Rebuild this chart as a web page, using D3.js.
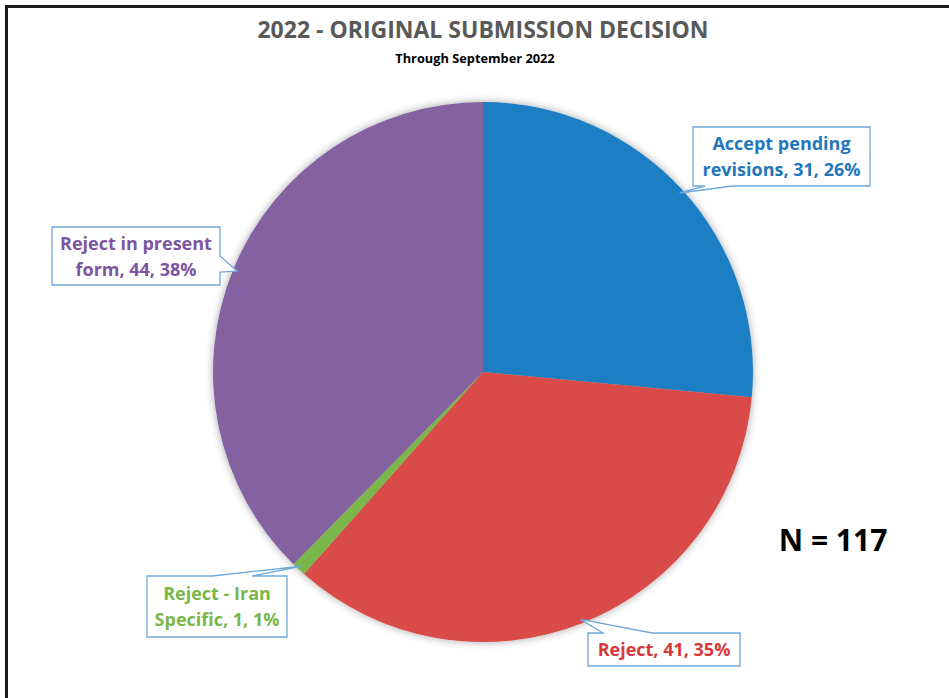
<!DOCTYPE html>
<html><head><meta charset="utf-8">
<script src="https://cdn.jsdelivr.net/npm/d3@7/dist/d3.min.js"></script>
<style>body{margin:0;background:#fff;} svg{display:block;}</style>
</head><body>
<svg id="c" width="949" height="698"></svg>
<script>
const categories = ["Accept pending revisions", "Reject", "Reject - Iran Specific", "Reject in present form"];
const values = [31, 41, 1, 44];
const percents = ["26%", "35%", "1%", "38%"];
const labelLines = [["Accept pending", "revisions, 31, 26%"], ["Reject, 41, 35%"], ["Reject - Iran", "Specific, 1, 1%"], ["Reject in present", "form, 44, 38%"]];
const colors = ["#1F7FC3", "#D94B48", "#7AB648", "#8462A2"];
const textColors = ["#1F77BE", "#D9383A", "#7AB648", "#7D55A0"];
const title = "2022 - ORIGINAL SUBMISSION DECISION";
const subtitle = "Through September 2022";
const nLabel = "N = 117";

const svg = d3.select("#c");
const font = "'Open Sans', 'Noto Sans', sans-serif";

// frame
svg.append("path").attr("d", "M6.5,698 L6.5,6.5 L949,6.5").attr("fill", "none").attr("stroke", "#1a1a1a").attr("stroke-width", 3);

svg.append("text").attr("x", 483).attr("y", 38).attr("text-anchor", "middle")
  .attr("font-family", font).attr("font-weight", 700).attr("font-size", 23).attr("fill", "#595959").text(title);
svg.append("text").attr("x", 475).attr("y", 63).attr("text-anchor", "middle")
  .attr("font-family", font).attr("font-weight", 700).attr("font-size", 12.8).attr("fill", "#000").text(subtitle);

const cx = 483, cy = 372, R = 270;
const pie = d3.pie().sort(null).value(d => d)(values);
const arc = d3.arc().innerRadius(0).outerRadius(R);

const defs = svg.append("defs");
const f = defs.append("filter").attr("id", "sh").attr("x", "-10%").attr("y", "-10%").attr("width", "120%").attr("height", "120%");
f.append("feGaussianBlur").attr("in", "SourceAlpha").attr("stdDeviation", 4).attr("result", "b");
f.append("feOffset").attr("in", "b").attr("dy", 0).attr("result", "o");
f.append("feComponentTransfer").attr("in", "o").attr("result", "o2").append("feFuncA").attr("type", "linear").attr("slope", 0.35);
const m = f.append("feMerge"); m.append("feMergeNode").attr("in", "o2"); m.append("feMergeNode").attr("in", "SourceGraphic");

const g = svg.append("g").attr("transform", `translate(${cx},${cy})`);
g.append("g").attr("filter", "url(#sh)").selectAll("path").data(pie).join("path")
  .attr("d", arc).attr("fill", (d, i) => colors[i]);

// callouts (layout)
const boxes = [
  {x: 693, y: 127, w: 177, h: 59, edge: "bottom", b0: 705, b1: 732},
  {x: 588, y: 633, w: 152, h: 33, edge: "top", b0: 603, b1: 652},
  {x: 147, y: 576, w: 140, h: 61, edge: "top", b0: 212, b1: 252},
  {x: 52, y: 227, w: 168, h: 58, edge: "right", b0: 256, b1: 272}
];
const lineH = 26;
pie.forEach((d, i) => {
  const b = boxes[i];
  const a = (d.startAngle + d.endAngle) / 2;
  const tx = cx + Math.sin(a) * R * 0.985, ty = cy - Math.cos(a) * R * 0.985;
  const x0 = b.x, y0 = b.y, x1 = b.x + b.w, y1 = b.y + b.h;
  let p;
  if (b.edge === "bottom") p = `M${x0},${y0}L${x1},${y0}L${x1},${y1}L${b.b1},${y1}L${tx},${ty}L${b.b0},${y1}L${x0},${y1}Z`;
  else if (b.edge === "top") p = `M${x0},${y0}L${b.b0},${y0}L${tx},${ty}L${b.b1},${y0}L${x1},${y0}L${x1},${y1}L${x0},${y1}Z`;
  else p = `M${x0},${y0}L${x1},${y0}L${x1},${b.b0}L${tx},${ty}L${x1},${b.b1}L${x1},${y1}L${x0},${y1}Z`;
  svg.append("path").attr("d", p).attr("fill", "#fff").attr("stroke", "#6FA8DC").attr("stroke-width", 1.3);
  const lines = labelLines[i];
  const midY = b.y + b.h / 2;
  const t = svg.append("text").attr("text-anchor", "middle").attr("font-family", font)
    .attr("font-weight", 700).attr("font-size", 18).attr("fill", textColors[i]);
  lines.forEach((ln, k) => {
    t.append("tspan").attr("x", b.x + b.w / 2)
      .attr("y", midY + (k - (lines.length - 1) / 2) * lineH + 6.5).text(ln);
  });
});

svg.append("text").attr("x", 833).attr("y", 551).attr("text-anchor", "middle")
  .attr("font-family", font).attr("font-weight", 700).attr("font-size", 30).attr("fill", "#000").text(nLabel);
</script>
</body></html>
